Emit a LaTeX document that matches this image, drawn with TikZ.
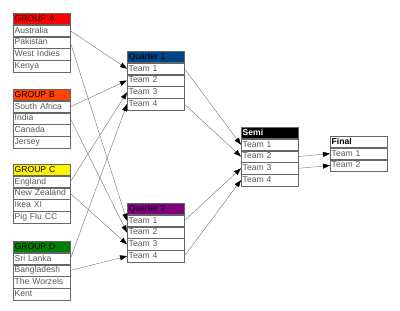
\documentclass[tikz,border=0pt]{standalone}
\usepackage{fontspec}
\setmainfont{Liberation Sans}
\usetikzlibrary{positioning,arrows.meta}

\definecolor{grpB}{HTML}{FF4500}
\definecolor{grpD}{HTML}{008000}
\definecolor{qtrA}{HTML}{004586}
\definecolor{qtrB}{HTML}{800080}

\tikzset{
  cell/.style={draw=black!60, fill=white, text=black!65, anchor=north west,
    text width=54pt, inner xsep=1.5pt, inner ysep=0pt, minimum height=11.4pt,
    text height=6.4pt, text depth=1.6pt, align=left,
    font=\fontsize{8.6}{9}\selectfont},
  head/.style={cell, text=black},
  below cell/.style={cell, below=0pt of #1},
  conn/.style={draw=black!55, line width=0.4pt,
    -{Triangle[length=7pt,width=5pt,color=black]}}
}

\begin{document}
\begin{tikzpicture}[x=1pt, y=-1pt]
                    \useasboundingbox (0,0) rectangle (400,311);

                    % groups
                    \node[head, fill=red] (A) at (13,13) {GROUP A};
                    \node[below cell=A] (A1) {Australia};
                    \node[below cell=A1] (A2) {Pakistan};
                    \node[below cell=A2] (A3) {West Indies};
                    \node[below cell=A3] (A4) {Kenya};

                    \node[head, fill=grpB] (B) at (13,89) {GROUP B};
                    \node[below cell=B] (B1) {South Africa};
                    \node[below cell=B1] (B2) {India};
                    \node[below cell=B2] (B3) {Canada};
                    \node[below cell=B3] (B4) {Jersey};

                    \node[head, fill=yellow] (C) at (13,164) {GROUP C};
                    \node[below cell=C] (C1) {England};
                    \node[below cell=C1] (C2) {New Zealand};
                    \node[below cell=C2] (C3) {Ikea XI};
                    \node[below cell=C3] (C4) {Pig Flu CC};

                    \node[head, fill=grpD] (D) at (13,241) {GROUP D};
                    \node[below cell=D] (D1) {Sri Lanka};
                    \node[below cell=D1] (D2) {Bangladesh};
                    \node[below cell=D2] (D3) {The Worzels};
                    \node[below cell=D3] (D4) {Kent};

                    % quarters
                    \node[head, fill=qtrA] (QA) at (127,51) {Quarter 1};
                    \node[below cell=QA] (QA1) {Team 1};
                    \node[below cell=QA1] (QA2) {Team 2};
                    \node[below cell=QA2] (QA3) {Team 3};
                    \node[below cell=QA3] (QA4) {Team 4};

                    \node[head, fill=qtrB] (QB) at (127,203) {Quarter 2};
                    \node[below cell=QB] (QB1) {Team 1};
                    \node[below cell=QB1] (QB2) {Team 2};
                    \node[below cell=QB2] (QB3) {Team 3};
                    \node[below cell=QB3] (QB4) {Team 4};

                    % semi and final
                    \node[head, fill=black, text=white] (S) at (241,127) {\textbf{Semi}};
                    \node[below cell=S] (S1) {Team 1};
                    \node[below cell=S1] (S2) {Team 2};
                    \node[below cell=S2] (S3) {Team 3};
                    \node[below cell=S3] (S4) {Team 4};

                    \node[head] (F) at (330,136) {\textbf{Final}};
                    \node[below cell=F] (F1) {Team 1};
                    \node[below cell=F1] (F2) {Team 2};

                    % draw
                    \draw[conn] (A1.east) -- (QA1.west);
                    \draw[conn] (B1.east) -- (QA2.west);
                    \draw[conn] (C1.east) -- (QA3.west);
                    \draw[conn] (D1.east) -- (QA4.west);
                    \draw[conn] (A2.east) -- (QB1.west);
                    \draw[conn] (B2.east) -- (QB2.west);
                    \draw[conn] (C2.east) -- (QB3.west);
                    \draw[conn] (D2.east) -- (QB4.west);

                    \draw[conn] (QA1.east) -- (S1.west);
                    \draw[conn] (QA4.east) -- (S2.west);
                    \draw[conn] (QB1.east) -- (S3.west);
                    \draw[conn] (QB4.east) -- (S4.west);

                    \draw[conn] (S2.east) -- (F1.west);
                    \draw[conn] (S3.east) -- (F2.west);
                \end{tikzpicture}
\end{document}
